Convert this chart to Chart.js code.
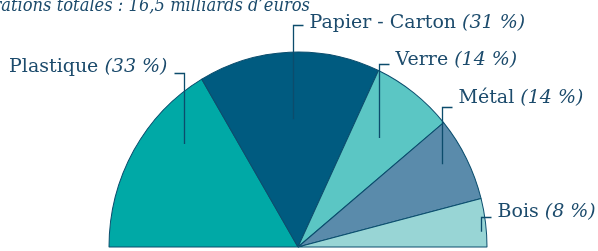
<!DOCTYPE html>
<html>
<head>
<meta charset="utf-8">
<script src="https://cdn.jsdelivr.net/npm/chart.js@4.4.1/dist/chart.umd.min.js"></script>
<style>
html,body{margin:0;padding:0;background:#fff;}
#wrap{width:598px;height:251px;position:relative;}
</style>
</head>
<body>
<div id="wrap"><canvas id="c" width="598" height="251"></canvas></div>
<script>
const categories = ['Plastique', 'Papier - Carton', 'Verre', 'Métal', 'Bois'];
const shares = [33, 31, 14, 14, 8];
const shareLabels = ['(33 %)', '(31 %)', '(14 %)', '(14 %)', '(8 %)'];
const caption = 'Réparations totales : 16,5 milliards d’euros';

const colors = ['#00a9a6', '#005b80', '#5bc6c4', '#5a8bab', '#98d5d5'];
// leader layout: angle fraction inside slice, radius fraction, line y, text baseline, side
const leaders = [
  {f: 0.695, r: 0.80, ly: 73, ty: 72, side: -1},
  {f: 0.507, r: 0.655, ly: 25, ty: 28, side: 1},
  {f: 0.49, r: 0.705, ly: 64, ty: 65, side: 1},
  {f: 0.42, r: 0.874, ly: 107, ty: 103, side: 1},
  {f: 0.68, r: 0.97, ly: 217, ty: 217, side: 1}
];
const FONT = 'DejaVu Serif';
const FS = 19;
const TXT = '#1c4b6c';
const LINE = '#0c4c6c';
const SY = 1.032; // slight vertical stretch of the half-disc

const stretchPlugin = {
  id: 'stretch',
  beforeDatasetsDraw(chart) {
    const arc = chart.getDatasetMeta(0).data[0];
    const ctx = chart.ctx;
    ctx.save();
    ctx.translate(0, arc.y);
    ctx.scale(1, SY);
    ctx.translate(0, -arc.y);
  },
  afterDatasetsDraw(chart) {
    chart.ctx.restore();
  }
};

const labelPlugin = {
  id: 'leaderLabels',
  afterDatasetsDraw(chart) {
    const ctx = chart.ctx;
    const meta = chart.getDatasetMeta(0);
    ctx.save();
    // caption (partly cut off at the top, as in the source)
    ctx.font = 'italic ' + FS + 'px "' + FONT + '"';
    ctx.fillStyle = TXT;
    ctx.textAlign = 'right';
    ctx.textBaseline = 'alphabetic';
    ctx.save();
    ctx.translate(310, 11);
    ctx.scale(0.86, 1);
    ctx.fillText(caption, 0, 0);
    ctx.restore();
    meta.data.forEach((arc, i) => {
      const L = leaders[i];
      const a = arc.startAngle + (arc.endAngle - arc.startAngle) * L.f;
      const px = arc.x + Math.cos(a) * arc.outerRadius * L.r;
      const py = arc.y + Math.sin(a) * arc.outerRadius * L.r * SY;
      const lx = Math.round(px) + 0.5;
      ctx.strokeStyle = LINE;
      ctx.lineWidth = 1.3;
      ctx.beginPath();
      ctx.moveTo(lx, py);
      ctx.lineTo(lx, L.ly + 0.5);
      ctx.lineTo(lx + L.side * 10, L.ly + 0.5);
      ctx.stroke();
      const n = categories[i] + ' ';
      const p = shareLabels[i];
      ctx.textAlign = 'left';
      ctx.fillStyle = TXT;
      ctx.font = FS + 'px "' + FONT + '"';
      const wn = ctx.measureText(n).width;
      ctx.font = 'italic ' + FS + 'px "' + FONT + '"';
      const wp = ctx.measureText(p).width;
      const x0 = L.side > 0 ? lx + 16 : lx - 17 - wn - wp;
      ctx.font = FS + 'px "' + FONT + '"';
      ctx.fillText(n, x0, L.ty);
      ctx.font = 'italic ' + FS + 'px "' + FONT + '"';
      ctx.fillText(p, x0 + wn, L.ty);
    });
    ctx.restore();
  }
};

new Chart(document.getElementById('c'), {
  type: 'doughnut',
  data: {
    labels: categories,
    datasets: [{
      data: shares,
      backgroundColor: colors,
      borderColor: '#0b4e6e',
      borderWidth: 1,
      radius: 189
    }]
  },
  options: {
    responsive: false,
    animation: false,
    rotation: -90,
    circumference: 180,
    cutout: 0,
    layout: {padding: {left: 0, right: 2, top: 54, bottom: 0}},
    plugins: {legend: {display: false}, tooltip: {enabled: false}}
  },
  plugins: [stretchPlugin, labelPlugin]
});
</script>
</body>
</html>
